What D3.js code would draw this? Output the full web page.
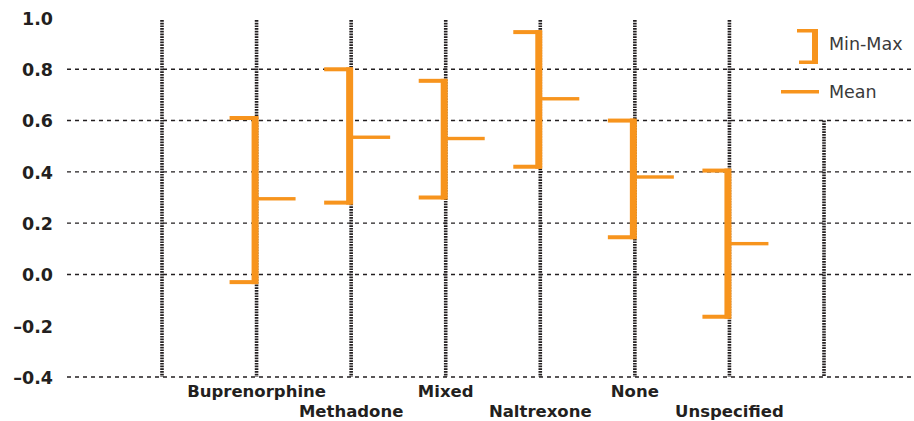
<!DOCTYPE html>
<html>
<head>
<meta charset="utf-8">
<script src="https://cdn.jsdelivr.net/npm/d3@7"></script>
<style>
  html, body { margin: 0; padding: 0; background: #fff; }
  svg { display: block; }
</style>
</head>
<body>
<svg id="chart" width="914" height="421"></svg>
<script>
// ---- data ----
const categories = ["Buprenorphine", "Methadone", "Mixed", "Naltrexone", "None", "Unspecified"];
const minValues  = [-0.03, 0.28, 0.30, 0.42, 0.145, -0.165];
const maxValues  = [0.61, 0.80, 0.755, 0.945, 0.60, 0.405];
const meanValues = [0.295, 0.535, 0.53, 0.685, 0.38, 0.12];
const yTickValues = [1.0, 0.8, 0.6, 0.4, 0.2, 0.0, -0.2, -0.4];
const yGridValues = [0.8, 0.6, 0.4, 0.2, 0.0, -0.4];
const legendLabels = ["Min-Max", "Mean"];

// ---- layout ----
const W = 914, H = 421;
const orange = "#f7941d";
const dark = "#231f20";
const svg = d3.select("#chart");

const xDomain = ["__start"].concat(categories, ["__end"]);
const x = d3.scalePoint().domain(xDomain).range([162, 824]);
const y = d3.scaleLinear().domain([-0.4, 1.0]).range([377, 18]);

const fmt = v => (v < 0 ? "\u2013" : "") + Math.abs(v).toFixed(1);

// horizontal dashed gridlines
svg.append("g").selectAll("line").data(yGridValues).join("line")
  .attr("x1", 67).attr("x2", W)
  .attr("y1", d => y(d)).attr("y2", d => y(d))
  .attr("stroke", dark).attr("stroke-width", 1.4)
  .attr("stroke-dasharray", "4,4");

// vertical dotted gridlines
svg.append("g").selectAll("line").data(xDomain).join("line")
  .attr("x1", d => x(d)).attr("x2", d => x(d))
  .attr("y1", d => d === "__end" ? y(0.6) : 20)
  .attr("y2", y(-0.4))
  .attr("stroke", dark).attr("stroke-width", 3.6)
  .attr("stroke-dasharray", "1.7,1");

// y-axis labels
const yAxis = d3.axisLeft(y).tickValues(yTickValues).tickFormat(fmt).tickSize(0).tickPadding(0);
const yg = svg.append("g").attr("transform", "translate(53,0)").call(yAxis);
yg.select(".domain").remove();
yg.selectAll("text")
  .attr("font-family", "DejaVu Sans, sans-serif")
  .attr("font-weight", "bold")
  .attr("font-size", 17.5)
  .attr("fill", dark)
  .attr("dy", "0.36em");

// category labels
svg.append("g").selectAll("text").data(categories).join("text")
  .attr("x", d => x(d))
  .attr("y", (d, i) => i % 2 === 0 ? 397 : 417)
  .attr("text-anchor", "middle")
  .attr("font-family", "DejaVu Sans, sans-serif")
  .attr("font-weight", "bold")
  .attr("font-size", 16.5)
  .attr("fill", dark)
  .text(d => d);

// marks
const rows = categories.map((c, i) => ({ c, min: minValues[i], max: maxValues[i], mean: meanValues[i] }));
const mg = svg.append("g");
rows.forEach(r => {
  const cx = x(r.c);
  // vertical range bar
  mg.append("rect")
    .attr("x", cx - 5).attr("width", 7)
    .attr("y", y(r.max) - 2)
    .attr("height", y(r.min) - y(r.max) + 4)
    .attr("fill", orange);
  // caps
  [r.max, r.min].forEach(v => {
    mg.append("rect")
      .attr("x", cx - 27).attr("width", 27)
      .attr("y", y(v) - 2).attr("height", 4)
      .attr("fill", orange);
  });
  // mean
  mg.append("rect")
    .attr("x", cx).attr("width", 39)
    .attr("y", y(r.mean) - 1.7).attr("height", 3.4)
    .attr("fill", orange);
});

// legend
const lg = svg.append("g");
lg.append("rect").attr("x", 812).attr("y", 29).attr("width", 6).attr("height", 35).attr("fill", orange);
lg.append("rect").attr("x", 797).attr("y", 29).attr("width", 21).attr("height", 3.5).attr("fill", orange);
lg.append("rect").attr("x", 799).attr("y", 60.5).attr("width", 19).attr("height", 3.5).attr("fill", orange);
lg.append("rect").attr("x", 781).attr("y", 90).attr("width", 38).attr("height", 3.5).attr("fill", orange);
lg.selectAll("text").data(legendLabels).join("text")
  .attr("x", 829)
  .attr("y", (d, i) => i === 0 ? 50 : 98)
  .attr("font-family", "DejaVu Sans, sans-serif")
  .attr("font-size", 17.5)
  .attr("fill", "#3a3a3a")
  .text(d => d);
</script>
</body>
</html>
